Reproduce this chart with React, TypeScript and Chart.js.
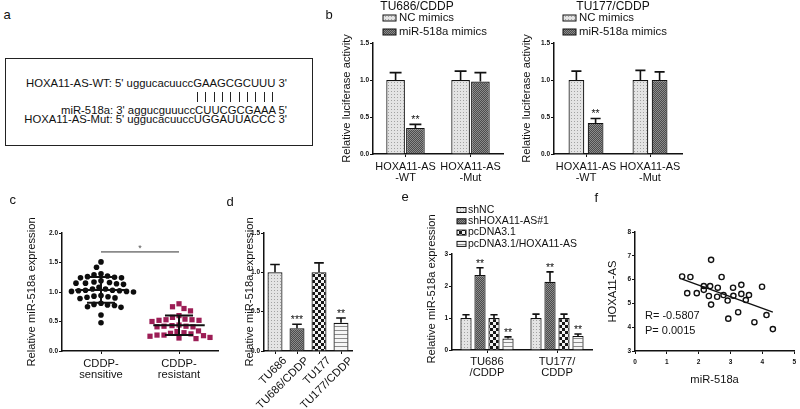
import React, { useEffect, useRef } from "react";
import { Chart, registerables } from "chart.js";

Chart.register(...registerables);

const FONT = "'Liberation Sans', Arial, Helvetica, sans-serif";
const INK = "#111111";
Chart.defaults.font.family = FONT;
Chart.defaults.color = INK;

// ---------------- Data ----------------
// Panel a
const seqWT = "HOXA11-AS-WT: 5' uggucacuuccGAAGCGCUUU 3'";
const seqMiR = "miR-518a: 3' aggucguuuccCUUCGCGAAA 5'";
const seqMut = "HOXA11-AS-Mut: 5' uggucacuuccUGGAUUACCC 3'";
const pairedBases = 10;
const panelLetters = ["a", "b", "c", "d", "e", "f"];

// Panel b
const lucCategories = [["HOXA11-AS", "-WT"], ["HOXA11-AS", "-Mut"]];
const lucSeries = ["NC mimics", "miR-518a mimics"];
const lucYTitle = "Relative luciferase activity";
const tu686Title = "TU686/CDDP";
const tu686NC = [1.0, 1.0];
const tu686NCErr = [0.1, 0.12];
const tu686Mimic = [0.35, 0.98];
const tu686MimicErr = [0.05, 0.12];
const tu686MimicStars = ["**", ""];
const tu177Title = "TU177/CDDP";
const tu177NC = [1.0, 1.0];
const tu177NCErr = [0.12, 0.13];
const tu177Mimic = [0.42, 1.0];
const tu177MimicErr = [0.06, 0.11];
const tu177MimicStars = ["**", ""];

// Panel c
const exprYTitle = "Relative miR-518a expression";
const groupLabels = [["CDDP-", "sensitive"], ["CDDP-", "resistant"]];
const sensitiveValues = [
  1.51, 1.42, 1.31, 1.29, 1.27, 1.26, 1.25, 1.24, 1.24, 1.19, 1.17, 1.15, 1.14,
  1.13, 1.15, 1.16, 1.08, 1.05, 1.03, 1.02, 1.01, 1.0, 1.01, 1.02, 1.03, 1.05,
  0.94, 0.92, 0.9, 0.89, 0.91, 0.93, 0.81, 0.79, 0.77, 0.75, 0.74, 0.78, 0.61, 0.48,
];
const resistantValues = [
  0.8, 0.75, 0.72, 0.68, 0.6, 0.57, 0.53, 0.52, 0.5, 0.52, 0.53, 0.54, 0.44, 0.42,
  0.41, 0.41, 0.42, 0.43, 0.34, 0.31, 0.29, 0.27, 0.26, 0.25, 0.27, 0.3, 0.33,
  0.22, 0.21, 0.23,
];
const sigLevelC = 1.68;
const sigTextC = "*";

// Panel d
const cellLines = ["TU686", "TU686/CDDP", "TU177", "TU177/CDDP"];
const cellValues = [1.0, 0.29, 1.0, 0.36];
const cellErr = [0.1, 0.05, 0.12, 0.06];
const cellStars = ["", "***", "", "**"];

// Panel e
const eGroups = [["TU686", "/CDDP"], ["TU177/", "CDDP"]];
const eSeries = ["shNC", "shHOXA11-AS#1", "pcDNA3.1", "pcDNA3.1/HOXA11-AS"];
const eShNC = [1.0, 1.0];
const eShNCErr = [0.1, 0.12];
const eShHOXA = [2.34, 2.13];
const eShHOXAErr = [0.23, 0.31];
const eShHOXAStars = ["**", "**"];
const ePc = [1.0, 1.0];
const ePcErr = [0.1, 0.12];
const ePcHOXA = [0.36, 0.44];
const ePcHOXAErr = [0.05, 0.06];
const ePcHOXAStars = ["**", "**"];

// Panel f
const fXTitle = "miR-518a";
const fYTitle = "HOXA11-AS";
const fMiR518a = [
  1.48, 1.74, 1.64, 1.94, 2.16, 2.16, 2.39, 2.36, 2.32, 2.39, 2.6, 2.58, 2.72, 2.78,
  2.91, 2.93, 3.08, 3.09, 3.34, 3.34, 3.24, 3.48, 3.58, 3.99, 3.75, 4.13, 4.33,
];
const fHoxa = [
  6.13, 6.11, 5.43, 5.43, 5.73, 5.57, 6.83, 5.73, 5.31, 4.95, 5.66, 5.28, 6.11, 5.35,
  5.12, 4.36, 5.66, 5.32, 5.78, 5.4, 4.63, 5.14, 5.35, 5.7, 4.21, 4.51, 3.92,
];
const fStats = ["R= -0.5807", "P= 0.0015"];

// ---------------- Layout helpers ----------------
type Box = { x: number; y: number; w: number; h: number };
type Area = { left: number; top: number; right: number; bottom: number };

const TICK_FONT = { family: FONT, size: 6.5, weight: "bold" as const };
const LABEL_FONT = { family: FONT, size: 11.2, lineHeight: 1.0 };
const LABEL_FONT_B = { family: FONT, size: 10.9, lineHeight: 1.0 };
const TITLE_FONT = { family: FONT, size: 11.2 };
const TITLE_HALF = 11.2 * 1.2 / 2;

function frame(box: Box, area: Area) {
  return {
    padding: { left: 0, top: area.top - box.y, right: box.x + box.w - area.right, bottom: 0 },
    yWidth: area.left - box.x,
    xHeight: box.y + box.h - area.bottom,
  };
}

function commonOptions(padding: any) {
  return {
    responsive: false,
    animation: false as const,
    devicePixelRatio: 1,
    events: [],
    layout: { padding, autoPadding: false },
    plugins: { legend: { display: false }, tooltip: { enabled: false }, title: { display: false } },
  };
}

const axisGrid = { display: true, drawOnChartArea: false, drawTicks: true, tickLength: 3, color: INK, lineWidth: 1 };
const axisBorder = { display: true, color: INK, width: 1.5 };

function yAxis(o: { min: number; max: number; step: number; width: number; fmt: (v: number) => string; title?: string; titlePad?: number }) {
  return {
    type: "linear",
    min: o.min,
    max: o.max,
    ticks: { stepSize: o.step, font: TICK_FONT, color: INK, padding: 1, callback: (v: any) => o.fmt(Number(v)) },
    grid: axisGrid,
    border: axisBorder,
    title: o.title
      ? { display: true, text: o.title, font: TITLE_FONT, color: INK, padding: { top: o.titlePad || 0, bottom: 0 } }
      : { display: false },
    afterFit: (s: any) => {
      s.width = o.width;
    },
  };
}

type Txt = { text: string; x: number; y: number; size: number; align?: CanvasTextAlign; rot?: number; color?: string };
type Leg = { boxX: number; textX: number; y0: number; step: number; bw: number; bh: number; size: number };

function decor(box: Box, texts: Txt[], legend?: Leg) {
  return {
    id: "decor",
    afterDraw(chart: any) {
      const ctx: CanvasRenderingContext2D = chart.ctx;
      ctx.save();
      ctx.translate(-box.x, -box.y);
      ctx.textBaseline = "middle";
      for (const t of texts) {
        ctx.save();
        ctx.font = `${t.size}px ${FONT}`;
        ctx.fillStyle = t.color || INK;
        ctx.textAlign = t.align || "center";
        ctx.translate(t.x, t.y);
        if (t.rot) ctx.rotate(t.rot);
        ctx.fillText(t.text, 0, 0);
        ctx.restore();
      }
      if (legend) {
        chart.data.datasets.forEach((ds: any, i: number) => {
          const y = legend.y0 + i * legend.step;
          ctx.fillStyle = ds.backgroundColor;
          ctx.fillRect(legend.boxX, y - legend.bh / 2, legend.bw, legend.bh);
          ctx.strokeStyle = INK;
          ctx.lineWidth = 1;
          ctx.strokeRect(legend.boxX, y - legend.bh / 2, legend.bw, legend.bh);
          ctx.fillStyle = INK;
          ctx.font = `${legend.size}px ${FONT}`;
          ctx.textAlign = "left";
          ctx.fillText(ds.label, legend.textX, y);
        });
      }
      ctx.restore();
    },
  };
}

const errorBarPlugin = {
  id: "errbars",
  afterDatasetsDraw(chart: any) {
    const ctx: CanvasRenderingContext2D = chart.ctx;
    const ys = chart.scales.y;
    chart.data.datasets.forEach((ds: any, di: number) => {
      if (!ds.errors) return;
      const meta = chart.getDatasetMeta(di);
      meta.data.forEach((bar: any, i: number) => {
        const v = ds.data[i];
        const top = ys.getPixelForValue(v + ds.errors[i]);
        const half = bar.width * 0.32;
        ctx.save();
        ctx.strokeStyle = INK;
        ctx.lineWidth = 1.6;
        ctx.beginPath();
        ctx.moveTo(bar.x, bar.y);
        ctx.lineTo(bar.x, top);
        ctx.moveTo(bar.x - half, top);
        ctx.lineTo(bar.x + half, top);
        ctx.stroke();
        const s = ds.stars && ds.stars[i];
        if (s) {
          ctx.fillStyle = INK;
          ctx.font = `10.5px ${FONT}`;
          ctx.textAlign = "center";
          ctx.textBaseline = "alphabetic";
          ctx.fillText(s, bar.x, top - 1);
        }
        ctx.restore();
      });
    });
  },
};

function makePatterns() {
  const make = (w: number, h: number, draw: (g: CanvasRenderingContext2D) => void) => {
    const c = document.createElement("canvas");
    c.width = w;
    c.height = h;
    const g = c.getContext("2d")!;
    draw(g);
    return g.createPattern(c, "repeat")!;
  };
  return {
    light: make(3, 3, (g) => {
      g.fillStyle = "#e4e4e4";
      g.fillRect(0, 0, 3, 3);
      g.fillStyle = "#a2a2a2";
      g.fillRect(1, 1, 1, 1);
    }),
    dark: make(2, 2, (g) => {
      g.fillStyle = "#4c4c4c";
      g.fillRect(0, 0, 2, 2);
      g.fillStyle = "#8c8c8c";
      g.fillRect(0, 0, 1, 1);
      g.fillRect(1, 1, 1, 1);
    }),
    checker: make(6, 6, (g) => {
      g.fillStyle = "#f2f2f2";
      g.fillRect(0, 0, 6, 6);
      g.fillStyle = "#181818";
      g.fillRect(0, 0, 3, 3);
      g.fillRect(3, 3, 3, 3);
    }),
    stripes: make(1, 4, (g) => {
      g.fillStyle = "#f6f6f6";
      g.fillRect(0, 0, 1, 4);
      g.fillStyle = "#8c8c8c";
      g.fillRect(0, 0, 1, 1);
    }),
  };
}

function barConfig(o: {
  box: Box;
  area: Area;
  labels: any[];
  datasets: any[];
  yMax: number;
  yStep: number;
  yFmt: (v: number) => string;
  yTitle?: string;
  yTitleX?: number;
  xPad: number;
  xFont?: any;
  catPct: number;
  barPct: number;
  rotate?: number;
  labelOffset?: number;
  texts: Txt[];
  legend?: Leg;
}) {
  const f = frame(o.box, o.area);
  return {
    type: "bar",
    data: {
      labels: o.labels,
      datasets: o.datasets.map((d) => ({
        borderColor: INK,
        borderWidth: 1.2,
        borderSkipped: "start",
        categoryPercentage: o.catPct,
        barPercentage: o.barPct,
        ...d,
      })),
    },
    options: {
      ...commonOptions(f.padding),
      scales: {
        x: {
          type: "category",
          offset: true,
          grid: { ...axisGrid, offset: false },
          border: axisBorder,
          ticks: {
            font: o.xFont || LABEL_FONT,
            color: INK,
            padding: o.xPad,
            maxRotation: o.rotate || 0,
            minRotation: o.rotate || 0,
            autoSkip: false,
            labelOffset: o.labelOffset || 0,
          },
          afterFit: (s: any) => {
            s.height = f.xHeight;
          },
        },
        y: yAxis({
          min: 0,
          max: o.yMax,
          step: o.yStep,
          width: f.yWidth,
          fmt: o.yFmt,
          title: o.yTitle,
          titlePad: o.yTitleX !== undefined ? o.yTitleX - o.box.x - TITLE_HALF : 0,
        }),
      },
    },
    plugins: [errorBarPlugin, decor(o.box, o.texts, o.legend)],
  };
}

// ---------------- Panel builders ----------------
const B1_BOX: Box = { x: 318, y: 0, w: 192, h: 190 };
const B2_BOX: Box = { x: 510, y: 0, w: 290, h: 190 };
const C_BOX: Box = { x: 0, y: 190, w: 222, h: 219 };
const D_BOX: Box = { x: 222, y: 190, w: 178, h: 219 };
const E_BOX: Box = { x: 400, y: 190, w: 200, h: 219 };
const F_BOX: Box = { x: 600, y: 190, w: 200, h: 219 };

const fmt1 = (v: number) => v.toFixed(1);
const fmt0 = (v: number) => String(Math.round(v));

function buildLuc(box: Box, area: Area, title: string, titleX: number, legX: number, yTitleX: number,
  nc: number[], ncErr: number[], mim: number[], mimErr: number[], mimStars: string[], catPct: number, barPct: number) {
  const p = makePatterns();
  return barConfig({
    box,
    area,
    labels: lucCategories,
    datasets: [
      { label: lucSeries[0], data: nc, errors: ncErr, backgroundColor: p.light },
      { label: lucSeries[1], data: mim, errors: mimErr, stars: mimStars, backgroundColor: p.dark },
    ],
    yMax: 1.5,
    yStep: 0.5,
    yFmt: fmt1,
    yTitle: lucYTitle,
    yTitleX,
    xPad: 4.4,
    xFont: LABEL_FONT_B,
    catPct,
    barPct,
    texts: [{ text: title, x: titleX, y: 7, size: 12 }],
    legend: { boxX: legX, textX: legX + 16, y0: 18, step: 14, bw: 13, bh: 6, size: 11.4 },
  });
}

function buildB1() {
  return buildLuc(B1_BOX, { left: 373, top: 43, right: 503, bottom: 154 }, tu686Title, 417, 383, 347,
    tu686NC, tu686NCErr, tu686Mimic, tu686MimicErr, tu686MimicStars, 0.61, 0.94);
}
function buildB2() {
  return buildLuc(B2_BOX, { left: 554, top: 43, right: 682, bottom: 154 }, tu177Title, 613, 563, 527,
    tu177NC, tu177NCErr, tu177Mimic, tu177MimicErr, tu177MimicStars, 0.6, 0.82);
}

const swarmPlugin = {
  id: "swarm",
  afterDatasetsUpdate(chart: any) {
    const xs = chart.scales.x;
    chart.data.datasets.forEach((ds: any, di: number) => {
      if (!ds.swarm) return;
      const pts = chart.getDatasetMeta(di).data;
      const d = ds.swarm;
      const order = pts.map((_: any, i: number) => i).sort((a: number, b: number) => pts[a].y - pts[b].y);
      const placed: { x: number; y: number }[] = [];
      for (const i of order) {
        const el = pts[i];
        const cx = xs.getPixelForValue(ds.data[i].x);
        let off = 0;
        for (let k = 0; k < 400; k++) {
          const c = (k % 2 === 0 ? 1 : -1) * Math.ceil(k / 2) * 0.5;
          if (placed.every((p) => (p.x - c) ** 2 + (p.y - el.y) ** 2 >= d * d)) {
            off = c;
            break;
          }
        }
        placed.push({ x: off, y: el.y });
        el.x = cx + off;
      }
    });
  },
};

const summaryPlugin = {
  id: "summary",
  afterDatasetsDraw(chart: any) {
    const ctx: CanvasRenderingContext2D = chart.ctx;
    const xs = chart.scales.x;
    const ys = chart.scales.y;
    ctx.save();
    ctx.strokeStyle = INK;
    ctx.lineWidth = 2;
    chart.data.datasets.forEach((ds: any) => {
      if (!ds.summary) return;
      const vals = ds.data.map((p: any) => p.y);
      const n = vals.length;
      const mean = vals.reduce((a: number, b: number) => a + b, 0) / n;
      const sd = Math.sqrt(vals.reduce((a: number, b: number) => a + (b - mean) ** 2, 0) / (n - 1));
      const g = ds.data[0].x;
      const xm0 = xs.getPixelForValue(g - 0.33);
      const xm1 = xs.getPixelForValue(g + 0.33);
      const xc0 = xs.getPixelForValue(g - 0.18);
      const xc1 = xs.getPixelForValue(g + 0.18);
      const xc = xs.getPixelForValue(g);
      const ym = ys.getPixelForValue(mean);
      const yl = ys.getPixelForValue(mean - sd);
      const yh = ys.getPixelForValue(mean + sd);
      ctx.beginPath();
      ctx.moveTo(xm0, ym);
      ctx.lineTo(xm1, ym);
      ctx.moveTo(xc, yl);
      ctx.lineTo(xc, yh);
      ctx.moveTo(xc0, yl);
      ctx.lineTo(xc1, yl);
      ctx.moveTo(xc0, yh);
      ctx.lineTo(xc1, yh);
      ctx.stroke();
    });
    // significance bar
    const y = ys.getPixelForValue(sigLevelC);
    const x0 = xs.getPixelForValue(0);
    const x1 = xs.getPixelForValue(1);
    ctx.strokeStyle = "#8a8a8a";
    ctx.lineWidth = 1.6;
    ctx.beginPath();
    ctx.moveTo(x0, y);
    ctx.lineTo(x1, y);
    ctx.stroke();
    ctx.fillStyle = "#555";
    ctx.font = `9px ${FONT}`;
    ctx.textAlign = "center";
    ctx.textBaseline = "alphabetic";
    ctx.fillText(sigTextC, (x0 + x1) / 2, y - 1);
    ctx.restore();
  },
};

function buildC() {
  const area = { left: 62, top: 233, right: 218, bottom: 351 };
  const f = frame(C_BOX, area);
  return {
    type: "scatter",
    data: {
      datasets: [
        {
          label: "CDDP-sensitive",
          data: sensitiveValues.map((v) => ({ x: 0, y: v })),
          pointStyle: "circle",
          pointRadius: 2.8,
          borderWidth: 0,
          backgroundColor: "#0d0d0d",
          swarm: 6.7,
          summary: true,
        },
        {
          label: "CDDP-resistant",
          data: resistantValues.map((v) => ({ x: 1, y: v })),
          pointStyle: "rect",
          pointRadius: 3.7,
          borderWidth: 0,
          backgroundColor: "#9c1d55",
          swarm: 6.7,
          summary: true,
        },
      ],
    },
    options: {
      ...commonOptions(f.padding),
      scales: {
        x: {
          type: "linear",
          min: -0.5,
          max: 1.5,
          afterBuildTicks: (s: any) => {
            s.ticks = [{ value: 0 }, { value: 1 }];
          },
          ticks: {
            font: LABEL_FONT,
            color: INK,
            padding: 4,
            maxRotation: 0,
            autoSkip: false,
            callback: (v: any) => groupLabels[Math.round(Number(v))] || "",
          },
          grid: axisGrid,
          border: axisBorder,
          afterFit: (s: any) => {
            s.height = f.xHeight;
          },
        },
        y: yAxis({ min: 0, max: 2, step: 0.5, width: f.yWidth, fmt: fmt1, title: exprYTitle, titlePad: 32 - C_BOX.x - TITLE_HALF }),
      },
    },
    plugins: [swarmPlugin, summaryPlugin],
  };
}

function buildD() {
  const p = makePatterns();
  return barConfig({
    box: D_BOX,
    area: { left: 264, top: 233, right: 352, bottom: 351 },
    labels: cellLines,
    datasets: [
      {
        label: "miR-518a",
        data: cellValues,
        errors: cellErr,
        stars: cellStars,
        backgroundColor: [p.light, p.dark, p.checker, p.stripes],
      },
    ],
    yMax: 1.5,
    yStep: 0.5,
    yFmt: fmt1,
    yTitle: exprYTitle,
    yTitleX: 250,
    xPad: 1,
    catPct: 1.0,
    barPct: 0.68,
    rotate: 45,
    labelOffset: 10,
    texts: [],
  });
}

function buildE() {
  const p = makePatterns();
  return barConfig({
    box: E_BOX,
    area: { left: 452, top: 254, right: 592, bottom: 350 },
    labels: eGroups,
    datasets: [
      { label: eSeries[0], data: eShNC, errors: eShNCErr, backgroundColor: p.light },
      { label: eSeries[1], data: eShHOXA, errors: eShHOXAErr, stars: eShHOXAStars, backgroundColor: p.dark },
      { label: eSeries[2], data: ePc, errors: ePcErr, backgroundColor: p.checker },
      { label: eSeries[3], data: ePcHOXA, errors: ePcHOXAErr, stars: ePcHOXAStars, backgroundColor: p.stripes },
    ],
    yMax: 3,
    yStep: 1,
    yFmt: fmt0,
    xPad: 3.4,
    catPct: 0.8,
    barPct: 0.8,
    texts: [{ text: exprYTitle, x: 432, y: 289, size: 11.2, rot: -Math.PI / 2 }],
    legend: { boxX: 457, textX: 468, y0: 210, step: 11.3, bw: 9, bh: 5, size: 10.5 },
  });
}

function buildF() {
  const area = { left: 635, top: 232, right: 795, bottom: 351 };
  const f = frame(F_BOX, area);
  const n = fMiR518a.length;
  const mx = fMiR518a.reduce((a, b) => a + b, 0) / n;
  const my = fHoxa.reduce((a, b) => a + b, 0) / n;
  let sxy = 0;
  let sxx = 0;
  for (let i = 0; i < n; i++) {
    sxy += (fMiR518a[i] - mx) * (fHoxa[i] - my);
    sxx += (fMiR518a[i] - mx) ** 2;
  }
  const slope = sxy / sxx;
  const icpt = my - slope * mx;
  const xMin = Math.min(...fMiR518a);
  const xMax = Math.max(...fMiR518a);
  return {
    type: "scatter",
    data: {
      datasets: [
        {
          label: "samples",
          data: fMiR518a.map((x, i) => ({ x, y: fHoxa[i] })),
          pointRadius: 2.6,
          borderWidth: 1.4,
          borderColor: INK,
          backgroundColor: "rgba(255,255,255,0)",
        },
        {
          label: "fit",
          data: [
            { x: xMin, y: icpt + slope * xMin },
            { x: xMax, y: icpt + slope * xMax },
          ],
          showLine: true,
          pointRadius: 0,
          borderColor: INK,
          borderWidth: 1.4,
        },
      ],
    },
    options: {
      ...commonOptions(f.padding),
      scales: {
        x: {
          type: "linear",
          min: 0,
          max: 5,
          ticks: { stepSize: 1, font: TICK_FONT, color: INK, padding: 4, callback: (v: any) => fmt0(Number(v)) },
          grid: axisGrid,
          border: axisBorder,
          title: { display: true, text: fXTitle, font: TITLE_FONT, color: INK, padding: { top: 0, bottom: 409 - 380 - TITLE_HALF } },
          afterFit: (s: any) => {
            s.height = f.xHeight;
          },
        },
        y: yAxis({ min: 3, max: 8, step: 1, width: f.yWidth, fmt: fmt0, title: fYTitle, titlePad: 613 - F_BOX.x - TITLE_HALF }),
      },
    },
    plugins: [
      decor(F_BOX, [
        { text: fStats[0], x: 645, y: 316, size: 11, align: "left" },
        { text: fStats[1], x: 645, y: 331, size: 11, align: "left" },
      ]),
    ],
  };
}

// ---------------- Components ----------------
function ChartCanvas({ box, build }: { box: Box; build: () => any }) {
  const ref = useRef<HTMLCanvasElement | null>(null);
  useEffect(() => {
    if (!ref.current) return;
    const chart = new Chart(ref.current, build());
    return () => chart.destroy();
  }, []);
  return (
    <div style={{ position: "absolute", left: box.x, top: box.y, width: box.w, height: box.h }}>
      <canvas ref={ref} width={box.w} height={box.h} />
    </div>
  );
}

const letterPos = [
  [7, 15],
  [329, 15],
  [13, 200],
  [230, 202],
  [405, 197],
  [598, 198],
];

function PanelA() {
  const line = (text: string, baseline: number) => (
    <div
      style={{
        position: "absolute",
        right: 800 - 287,
        top: baseline - 10.4,
        fontSize: 11.3,
        lineHeight: "13px",
        whiteSpace: "nowrap",
        color: INK,
      }}
    >
      {text}
    </div>
  );
  const bars = [];
  for (let i = 0; i < pairedBases; i++) {
    bars.push(
      <div
        key={i}
        style={{
          position: "absolute",
          left: Math.round(197 + i * 8.35),
          top: 92,
          width: 1,
          height: 10,
          background: "#222",
        }}
      />
    );
  }
  return (
    <>
      <div
        style={{
          position: "absolute",
          left: 5,
          top: 58,
          width: 308,
          height: 88,
          border: "1.5px solid #222",
          boxSizing: "border-box",
        }}
      />
      {line(seqWT, 87.3)}
      {bars}
      {line(seqMiR, 114)}
      {line(seqMut, 123)}
    </>
  );
}

export default function App() {
  return (
    <div
      style={{
        position: "absolute",
        left: 0,
        top: 0,
        width: 800,
        height: 409,
        overflow: "hidden",
        background: "#fff",
        fontFamily: FONT,
      }}
    >
      <PanelA />
      <ChartCanvas box={B1_BOX} build={buildB1} />
      <ChartCanvas box={B2_BOX} build={buildB2} />
      <ChartCanvas box={C_BOX} build={buildC} />
      <ChartCanvas box={D_BOX} build={buildD} />
      <ChartCanvas box={E_BOX} build={buildE} />
      <ChartCanvas box={F_BOX} build={buildF} />
      {panelLetters.map((l, i) => (
        <div
          key={l}
          style={{
            position: "absolute",
            left: letterPos[i][0] - 3.5,
            top: letterPos[i][1] - 8,
            fontSize: 13,
            lineHeight: "15px",
            color: INK,
          }}
        >
          {l}
        </div>
      ))}
    </div>
  );
}
